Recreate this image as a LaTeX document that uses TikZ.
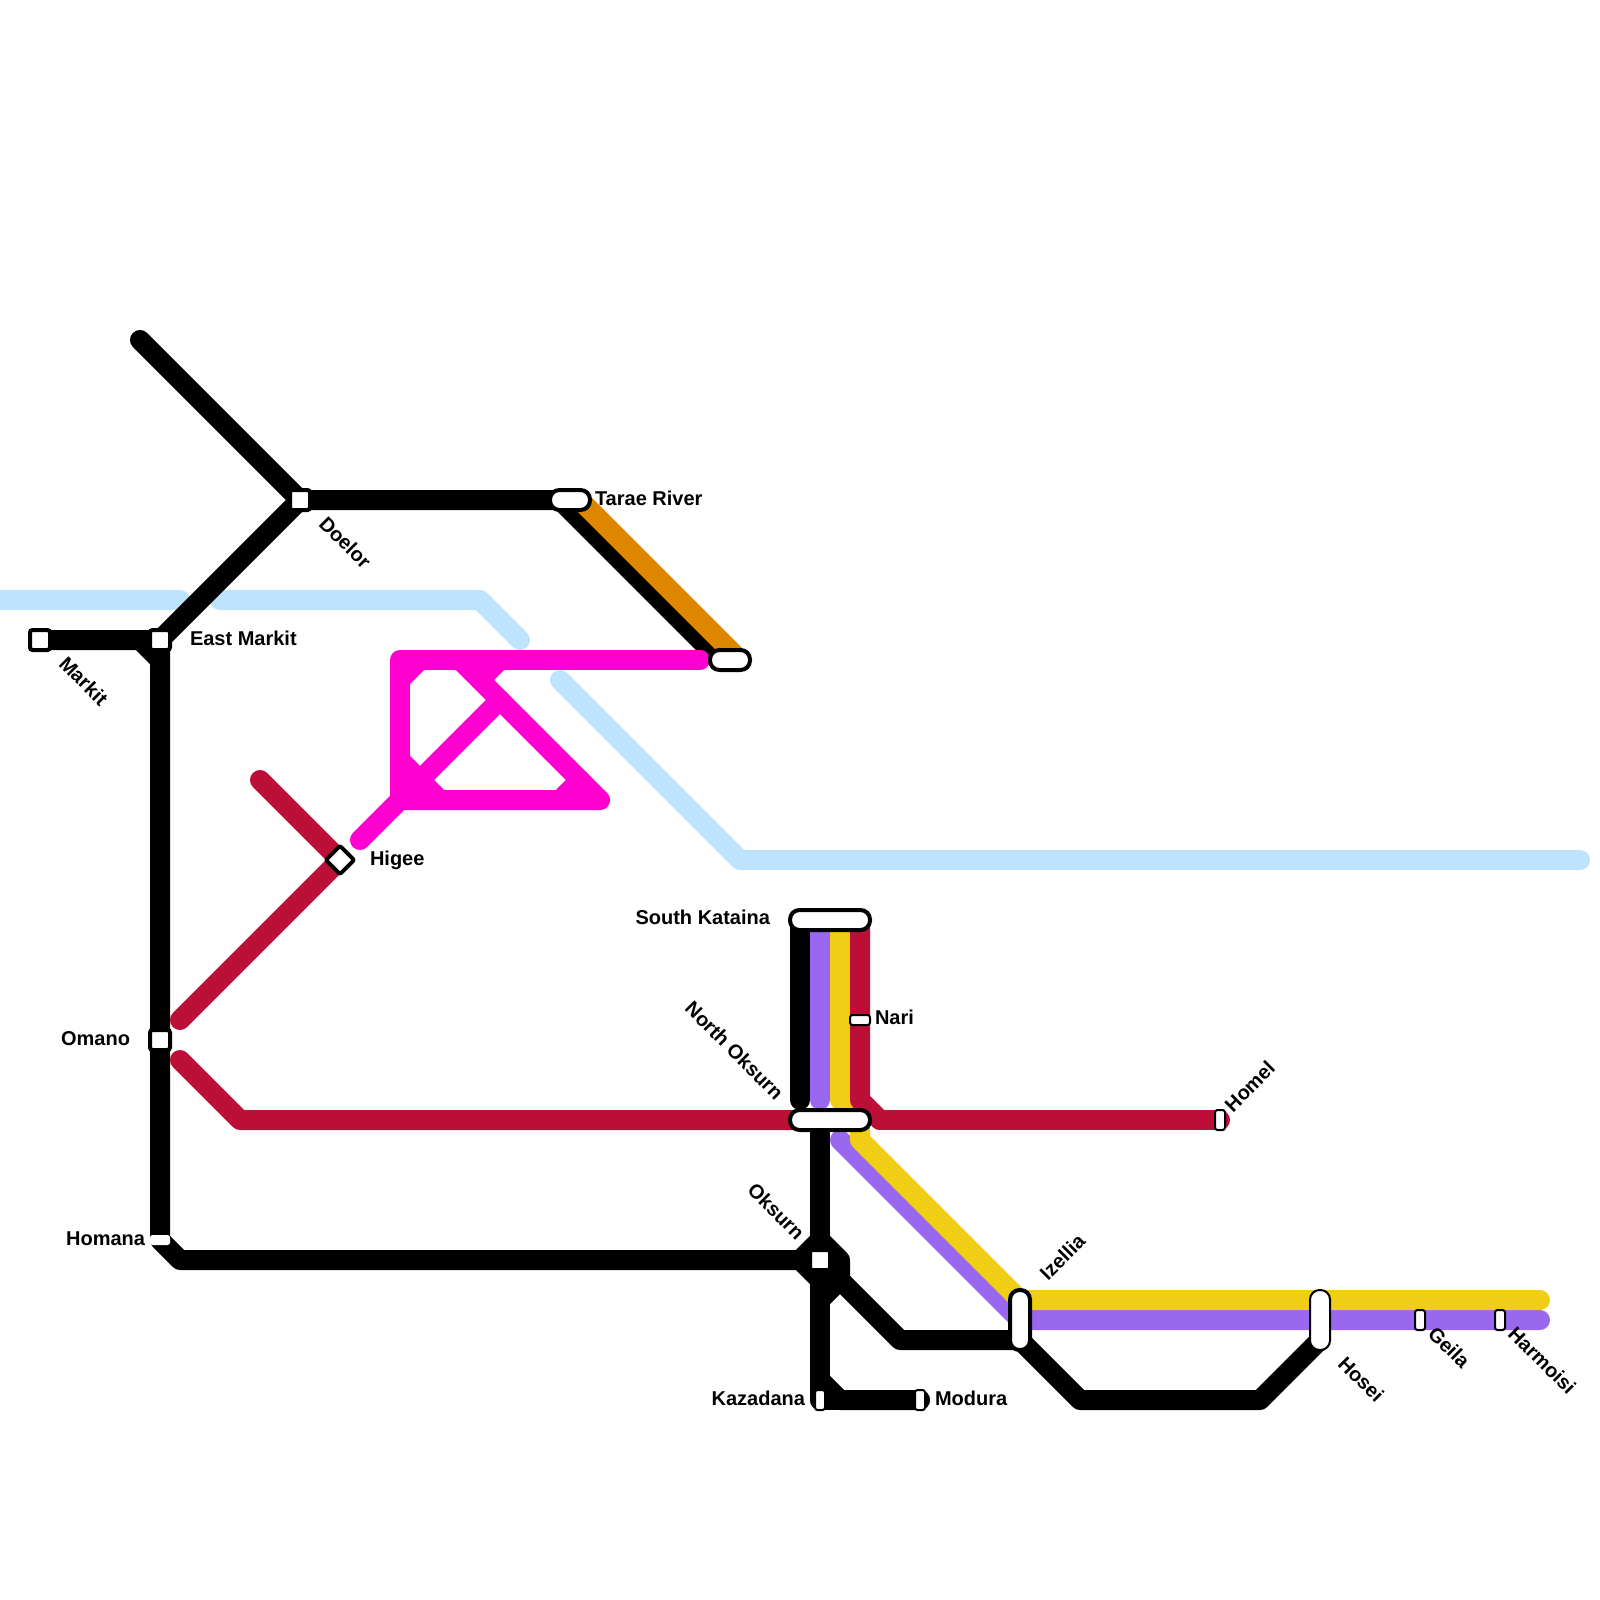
\documentclass[tikz,border=0pt]{standalone}
\usepackage{fontspec}
\setmainfont{Liberation Sans}
\definecolor{lblue}{HTML}{BDE3FF}
\definecolor{lmag}{HTML}{FF00D0}
\definecolor{lred}{HTML}{BC0F38}
\definecolor{lorg}{HTML}{DF8600}
\definecolor{lyel}{HTML}{F0CE15}
\definecolor{lpur}{HTML}{9A68EE}
\tikzset{
  x=1pt,y=-1pt,
  metro/.style={line width=20pt,line cap=round,line join=round},
  bline/.style={metro,black},
  stn/.style={draw=black,fill=white,line width=4pt,rounded corners=2.5pt,minimum width=20pt,minimum height=20pt,inner sep=0pt,outer sep=0pt},
  pill/.style={draw=black,fill=white,line width=4pt,rounded corners=9.5pt,inner sep=0pt,outer sep=0pt},
  small/.style={draw=black,fill=white,line width=2pt,rounded corners=2.5pt,inner sep=0pt,outer sep=0pt},
  lab/.style={font=\bfseries\fontsize{20}{24}\selectfont,inner sep=0pt,outer sep=0pt},
}
\begin{document}
\begin{tikzpicture}
\useasboundingbox (0,0) rectangle (1600,1600);
% coordinates
\foreach \n/\x/\y in {
 a/140/340,dl/300/500,tr/560/500,tra/580/500,tb/720/660,tba/740/660,
 mk/40/640,em/160/640,cm/140/640,cn/160/660,om/160/1040,hm/160/1240,hb/180/1260,
 ox/820/1260,oxl/800/1260,oxb/820/1280,oxt/820/1240,oxr/840/1260,oxq/840/1280,oxs/820/1300,
 kz/820/1400,kc/820/1380,kd/840/1400,md/920/1400,
 no/820/1120,j1/900/1340,iz/1020/1340,j2/1080/1400,j3/1260/1400,hs/1320/1340,
 b0/0/600,b1/180/600,b2/220/600,b3/480/600,b4/520/640,b5/560/680,b6/740/860,b7/1580/860,
 r1/260/780,hg/340/860,r2/180/1020,r3/180/1060,r4/240/1120,r4b/810/1120,r5/1220/1120,
 r6/860/920,r7/860/1100,r8/880/1120,
 y1/840/920,y2/840/1100,y3/860/1120,y4/860/1140,y5/1020/1300,y6/1540/1300,
 p1/820/920,p2/820/1100,p3/840/1140,p4/1020/1320,p5/1540/1320,
 k1/800/920,k2/800/1100,
 m0/360/840,m1/400/800,m2/600/800,m3/460/660,m4/400/660,m5/700/660,m6/500/700,
 m7/400/760,m8/440/800,m9/560/800,m10/580/780,m11/400/680,m12/420/660,m13/480/680,m14/500/660}
 {\coordinate (\n) at (\x,\y);}
% light blue
\draw[metro,lblue] (b0)--(b1);
\draw[metro,lblue] (b2)--(b3)--(b4);
\draw[metro,lblue] (b5)--(b6)--(b7);
% black
\draw[bline] (a)--(dl)--(tr)--(tb);
\draw[bline] (dl)--(em)--(om)--(hm)--(hb)--(oxl)--(oxb);
\draw[bline] (mk)--(cm)--(cn);
\draw[bline] (mk)--(em);
\draw[bline] (no)--(kz);
\draw[bline] (oxl)--(oxt)--(oxr)--(oxq)--(oxs);
\fill[black] (oxl)--(oxt)--(oxr)--(oxq)--(oxs)--(oxb)--cycle;
\draw[bline] (kc)--(kd)--(md);
\draw[bline] (kz)--(md);
\draw[bline] (oxq)--(j1)--(iz)--(j2)--(j3)--(hs);
\draw[bline] (k1)--(k2);
% orange
\draw[metro,line cap=butt,lorg] (tra)--(tba);
% purple yellow red
\draw[metro,lpur] (p1)--(p2);
\draw[metro,lpur] (p3)--(p4)--(p5);
\draw[metro,lyel] (y1)--(y2)--(y3)--(y4)--(y5)--(y6);
\draw[metro,lred] (r6)--(r7)--(r8);
\draw[metro,lred] (r1)--(hg)--(r2);
\draw[metro,lred] (r3)--(r4)--(r4b);
\draw[metro,lred] (r8)--(r5);
% magenta
\draw[metro,lmag] (m0)--(m1)--(m2)--(m3);
\draw[metro,lmag] (m1)--(m4)--(m5);
\draw[metro,lmag] (m1)--(m6);
\draw[metro,lmag] (m7)--(m8);
\draw[metro,lmag] (m9)--(m10);
\draw[metro,lmag] (m11)--(m12);
\draw[metro,lmag] (m13)--(m14);
% stations
\node[stn] (sMarkit) at (mk) {};
\node[stn] (sEast) at (em) {};
\node[stn] (sDoelor) at (dl) {};
\node[stn] (sOmano) at (om) {};
\node[stn] (sOksurn) at (ox) {};
\node[stn,rotate=45,rounded corners=2pt] (sHigee) at (hg) {};
\node[pill,minimum width=40pt,minimum height=20pt] (sTarae) at (570,500) {};
\node[pill,minimum width=40pt,minimum height=20pt] (sTarae2) at (730,660) {};
\node[pill,minimum width=80pt,minimum height=20pt] (sSouth) at (830,920) {};
\node[pill,minimum width=80pt,minimum height=20pt] (sNorth) at (830,1120) {};
\node[pill,minimum width=20pt,minimum height=60pt] (sIz) at (1020,1320) {};
\node[pill,line width=2pt,minimum width=20pt,minimum height=60pt] (sHosei) at (1320,1320) {};
\node[small,minimum width=20pt,minimum height=10pt] (sNari) at (860,1020) {};
\node[small,minimum width=20pt,minimum height=10pt,draw=none] (sHomana) at (hm) {};
\node[small,minimum width=10pt,minimum height=20pt] (sKaz) at (kz) {};
\node[small,minimum width=10pt,minimum height=20pt] (sMod) at (md) {};
\node[small,minimum width=10pt,minimum height=20pt] (sHomel) at (r5) {};
\node[small,minimum width=10pt,minimum height=20pt] (sGeila) at (1420,1320) {};
\node[small,minimum width=10pt,minimum height=20pt] (sHarm) at (1500,1320) {};
% labels
\node[lab,anchor=west] (lEast) at (190,638) {East Markit};
\node[lab,anchor=west] (lTarae) at (595,498) {Tarae River};
\node[lab,anchor=west] (lHigee) at (370,860) {Higee};
\node[lab,anchor=west] (lNari) at (875,1017) {Nari};
\node[lab,anchor=west] (lMod) at (935,1398) {Modura};
\node[lab,anchor=east] (lSouth) at (770,917) {South Kataina};
\node[lab,anchor=east] (lOmano) at (130,1039) {Omano};
\node[lab,anchor=east] (lHomana) at (145,1239) {Homana};
\node[lab,anchor=east] (lKaz) at (805,1398) {Kazadana};
\node[lab,rotate=-45,anchor=west] (lMarkit) at (63,660) {Markit};
\node[lab,rotate=-45,anchor=west] (lDoelor) at (323,520) {Doelor};
\node[lab,rotate=-45,anchor=west] (lHosei) at (1342,1360) {Hosei};
\node[lab,rotate=-45,anchor=west] (lGeila) at (1432,1330) {Geila};
\node[lab,rotate=-45,anchor=west] (lHarm) at (1512,1330) {Harmoisi};
\node[lab,rotate=45,anchor=west] (lHomel) at (1228,1108) {Homel};
\node[lab,rotate=45,anchor=west] (lIz) at (1043,1276) {Izellia};
\node[lab,rotate=-45,anchor=east] (lNorth) at (780,1096) {North Oksurn};
\node[lab,rotate=-45,anchor=east] (lOk) at (801,1236) {Oksurn};
\end{tikzpicture}
\end{document}
